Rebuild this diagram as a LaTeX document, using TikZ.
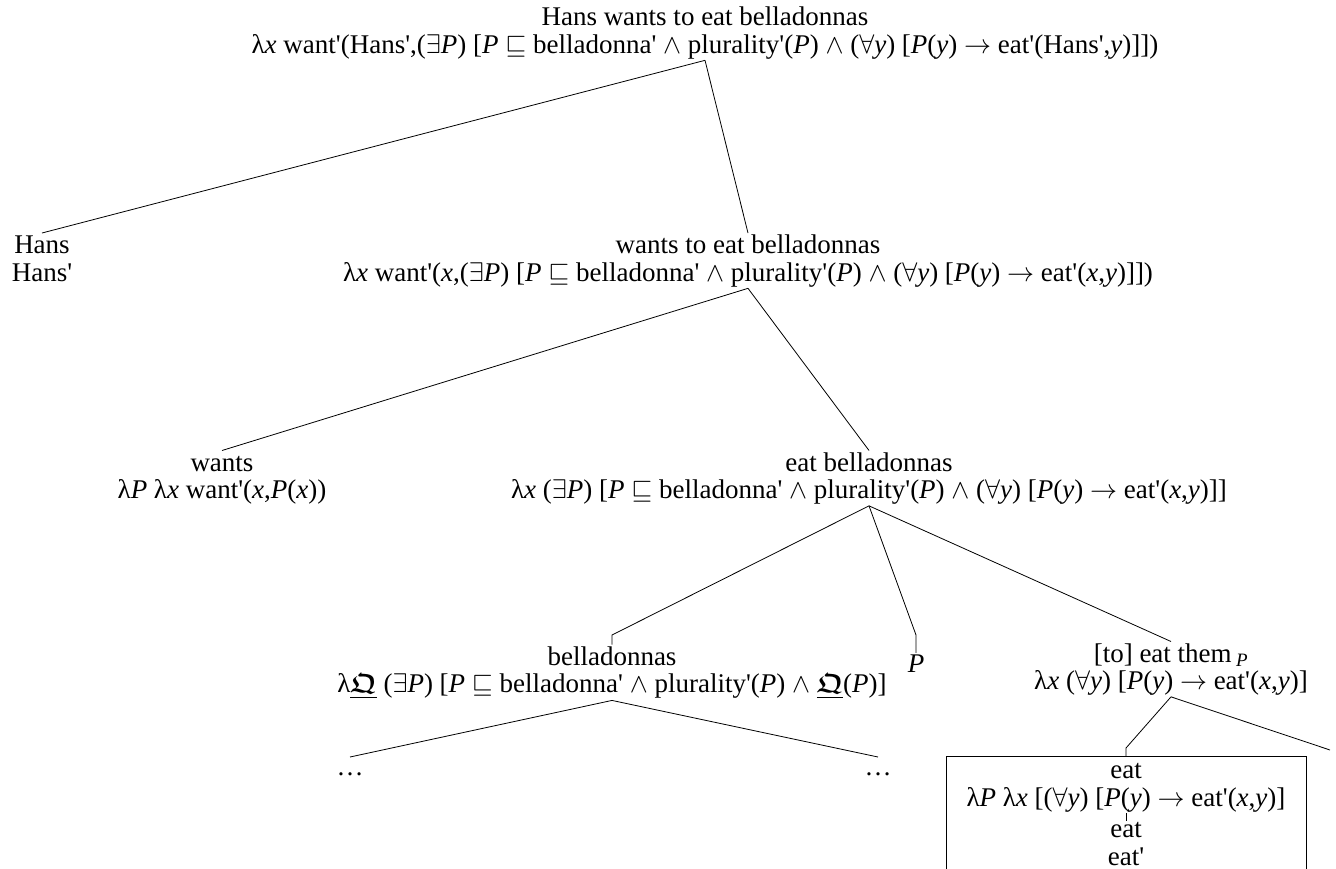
\RequirePackage{fix-cm}
\documentclass[tikz,border=0pt]{standalone}
\usepackage{amsmath,amssymb}
\usepackage{fontspec}
\setmainfont{Liberation Serif}[Ligatures=TeXOff]
\usetikzlibrary{calc}
\setlength{\lineskiplimit}{-20pt}

% logical symbols and variables used in the semantic labels
\newcommand\ivar[1]{\textit{#1}}
\newcommand\sEx{$\exists$}
\newcommand\sAll{$\forall$}
\newcommand\sSub{$\sqsubseteq$}
\newcommand\sAnd{$\wedge$}
\newcommand\sTo{$\rightarrow$}
\newcommand\sQ{\underline{$\boldsymbol{\mathfrak{Q}}$}}
\newcommand\tstrut{\rule{0pt}{19pt}}

\begin{document}
\begin{tikzpicture}[x=1pt,y=-1pt,
  lbl/.style={align=center, inner sep=0pt, outer sep=1.5pt, anchor=north,
    font=\fontsize{27}{27.5}\selectfont},
  branch/.style={line width=0.8pt},
  framebox/.style={draw, line width=0.8pt, minimum width=360pt, minimum height=113pt,
    anchor=north, inner sep=0pt, outer sep=0pt}]
\useasboundingbox (0,0) rectangle (1336,868);

% sentence and its constituents
\node[lbl] (root) at (705,5) {\tstrut Hans wants to eat belladonnas\\
  λ\ivar{x} want'(Hans',(\sEx\ivar{P}) [\ivar{P} \sSub{} belladonna' \sAnd{} plurality'(\ivar{P}) \sAnd{} (\sAll\ivar{y}) [\ivar{P}(\ivar{y}) \sTo{} eat'(Hans',\ivar{y})]])};
\node[lbl] (hans) at (42,233) {\tstrut Hans\\Hans'};
\node[lbl] (wteb) at (748,233) {\tstrut wants to eat belladonnas\\
  λ\ivar{x} want'(\ivar{x},(\sEx\ivar{P}) [\ivar{P} \sSub{} belladonna' \sAnd{} plurality'(\ivar{P}) \sAnd{} (\sAll\ivar{y}) [\ivar{P}(\ivar{y}) \sTo{} eat'(\ivar{x},\ivar{y})]])};
\node[lbl] (wants) at (222,450.5) {\tstrut wants\\ λ\ivar{P} λ\ivar{x} want'(\ivar{x},\ivar{P}(\ivar{x}))};
\node[lbl] (eb) at (869,450.5) {\tstrut eat belladonnas\\
  λ\ivar{x} (\sEx\ivar{P}) [\ivar{P} \sSub{} belladonna' \sAnd{} plurality'(\ivar{P}) \sAnd{} (\sAll\ivar{y}) [\ivar{P}(\ivar{y}) \sTo{} eat'(\ivar{x},\ivar{y})]]};
\node[lbl] (bell) at (612,644.5) {\tstrut belladonnas\\
  λ\sQ{} (\sEx\ivar{P}) [\ivar{P} \sSub{} belladonna' \sAnd{} plurality'(\ivar{P}) \sAnd{} \sQ(\ivar{P})]};
\node[lbl, anchor=base] (pvar) at (916,672) {\ivar{P}};
\node[lbl] (them) at (1171,641.5) {\tstrut [to] eat them\,\textsubscript{\ivar{P}}\\
  λ\ivar{x} (\sAll\ivar{y}) [\ivar{P}(\ivar{y}) \sTo{} eat'(\ivar{x},\ivar{y})]};
\node[lbl, anchor=base, outer sep=0pt] (dotsL) at (350,775) {\rule{0pt}{18pt}…};
\node[lbl, anchor=base, outer sep=0pt] (dotsR) at (878,775) {\rule{0pt}{18pt}…};

% framed lexical entry for the verb
\node[framebox] (box) at (1126,756) {};
\node[lbl] (eatA) at (1126,758) {\tstrut eat\\
  λ\ivar{P} λ\ivar{x} [(\sAll\ivar{y}) [\ivar{P}(\ivar{y}) \sTo{} eat'(\ivar{x},\ivar{y})]};
\node[lbl] (eatB) at (1126,821) {eat\\eat'};

% bend points of the branches
\coordinate (bellK) at (612,635);
\coordinate (pK) at (916,635);
\coordinate (boxK) at (1126,748);
\coordinate (offR) at (1330,750);

% branches
\draw[branch] (root.south) -- (hans.north);
\draw[branch] (root.south) -- (wteb.north);
\draw[branch] (wteb.south) -- (wants.north);
\draw[branch] (wteb.south) -- (eb.north);
\draw[branch] (eb.south) -- (bellK) -- (bell.north);
\draw[branch] (eb.south) -- (pK) -- (pvar.north);
\draw[branch] (eb.south) -- (them.north);
\draw[branch] (them.south) -- (boxK) -- (box.north);
\draw[branch] (them.south) -- (offR);
\draw[branch] (bell.south) -- (dotsL.north);
\draw[branch] (bell.south) -- (dotsR.north);
\draw[branch] (eatA.south) -- (eatB.north);
\end{tikzpicture}
\end{document}
